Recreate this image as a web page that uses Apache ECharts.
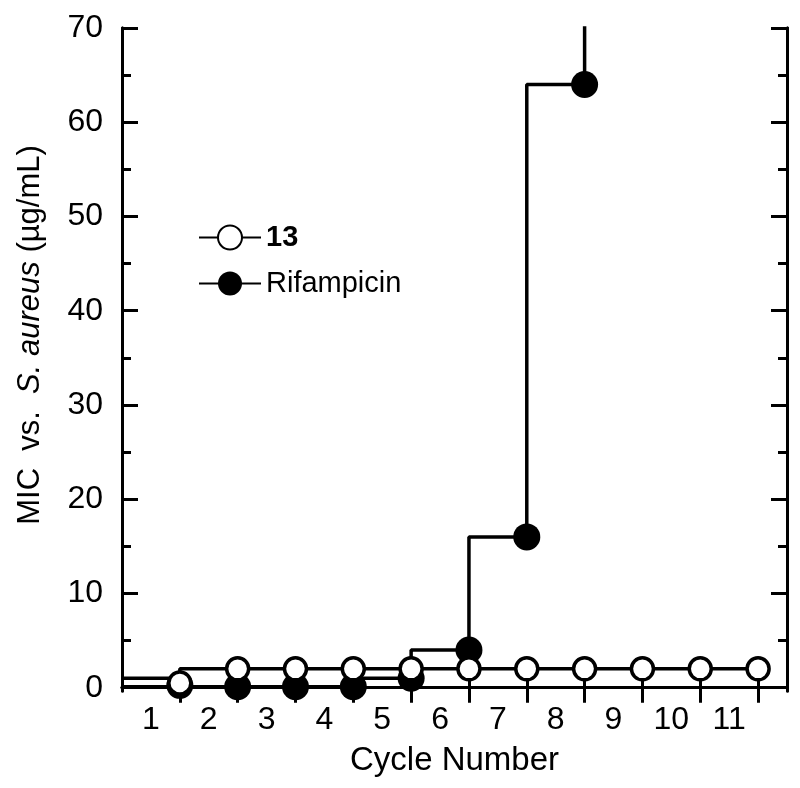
<!DOCTYPE html>
<html>
<head>
<meta charset="utf-8">
<script src="https://cdn.jsdelivr.net/npm/echarts@6/dist/echarts.min.js"></script>
<style>
html,body{margin:0;padding:0;background:#fff;}
#chart{width:800px;height:788px;}
</style>
</head>
<body>
<div id="chart"></div>
<script>
// ---- data ----
const cycles = [1, 2, 3, 4, 5, 6, 7, 8, 9, 10, 11];
const mic13 = [0.5, 2, 2, 2, 2, 2, 2, 2, 2, 2, 2];
const micRif = [0.25, 0.1, 0.1, 0.1, 1, 4, 16, 64, 128];
const lead13 = 1;      // level of the line before cycle 1
const leadRif = 0.1;
const xTickLabels = ['1', '2', '3', '4', '5', '6', '7', '8', '9', '10', '11'];
const yTickLabels = [0, 10, 20, 30, 40, 50, 60, 70];
const yMinorTicks = [5, 15, 25, 35, 45, 55, 65];

const X_MIN = 0, X_MAX = 11.5, Y_MIN = -0.35, Y_MAX = 70;
const FONT = "'Liberation Sans', Arial, sans-serif";

function stepData(lead, vals) {
  const d = [[X_MIN, lead], [cycles[0], lead]];
  for (let i = 1; i < vals.length; i++) d.push([cycles[i], vals[i]]);
  return d;
}
function pts(vals) { return vals.map((v, i) => [cycles[i], v]); }

const xLabelPos = xTickLabels.map((_, i) => cycles[i] - 0.5);

const chart = echarts.init(document.getElementById('chart'), null, {renderer: 'canvas'});

const axisLine = {show: true, lineStyle: {color: '#000', width: 3}};
function yAx(pos, ticks, len, labels) {
  return {
    type: 'value', position: pos, min: Y_MIN, max: Y_MAX,
    axisLine: axisLine,
    splitLine: {show: false},
    axisTick: {show: true, inside: true, length: len, customValues: ticks, lineStyle: {color: '#000', width: 3}},
    axisLabel: labels ? {show: true, customValues: yTickLabels, margin: 19, color: '#000', fontSize: 32, fontFamily: FONT} : {show: false}
  };
}

chart.setOption({
  backgroundColor: '#fff',
  animation: false,
  grid: {left: 122, right: 13, top: 28, bottom: 97},
  legend: {
    orient: 'vertical', left: 198, top: 223, padding: 0,
    itemWidth: 62, itemHeight: 30, itemGap: 17,
    data: ['13', 'Rifampicin'],
    formatter: n => n === '13' ? '{b|13}' : n,
    textStyle: {color: '#000', fontSize: 29, fontFamily: FONT, rich: {b: {fontWeight: 'bold', fontSize: 29, fontFamily: FONT}}}
  },
  graphic: [{
    type: 'text', x: 30, y: 335, rotation: Math.PI / 2,
    style: {
      text: '{n|MIC  vs.  }{i|S. aureus}{n| (µg/mL)}',
      align: 'center', verticalAlign: 'middle',
      rich: {n: {fontSize: 31, fontFamily: FONT, fill: '#000'}, i: {fontSize: 31, fontFamily: FONT, fontStyle: 'italic', fill: '#000'}}
    }
  }],
  xAxis: [
    {
      type: 'value', position: 'bottom', min: X_MIN, max: X_MAX,
      axisLine: axisLine, splitLine: {show: false},
      axisTick: {show: true, inside: true, length: 15, customValues: cycles, lineStyle: {color: '#000', width: 3}},
      axisLabel: {show: true, customValues: xLabelPos, formatter: v => xTickLabels[Math.round(v + 0.5) - 1],
                  margin: 13, color: '#000', fontSize: 32, fontFamily: FONT},
      name: 'Cycle Number', nameLocation: 'middle', nameGap: 53,
      nameTextStyle: {color: '#000', fontSize: 33, fontFamily: FONT}
    },
    {
      type: 'value', position: 'top', min: X_MIN, max: X_MAX,
      axisLine: axisLine, splitLine: {show: false},
      axisTick: {show: true, inside: true, length: 15, customValues: cycles, lineStyle: {color: '#000', width: 3}},
      axisLabel: {show: false}
    }
  ],
  yAxis: [
    yAx('left', yTickLabels, 16, true),
    yAx('left', yMinorTicks, 9, false),
    yAx('right', yTickLabels, 16, false),
    yAx('right', yMinorTicks, 9, false)
  ],
  series: [
    {
      name: 'Rifampicin', type: 'line', step: 'start', data: stepData(leadRif, micRif),
      symbol: 'circle', showSymbol: false, z: 2,
      itemStyle: {color: '#000'}, lineStyle: {color: '#000', width: 3.5}
    },
    {
      name: '13', type: 'line', step: 'start', data: stepData(lead13, mic13),
      symbol: 'emptyCircle', showSymbol: false, z: 2,
      itemStyle: {color: '#000'}, lineStyle: {color: '#000', width: 3.5}
    },
    {
      name: 'Rifampicin markers', type: 'scatter', data: pts(micRif), z: 3,
      symbol: 'circle', symbolSize: 27, itemStyle: {color: '#000', opacity: 1}
    },
    {
      name: '13 markers', type: 'scatter', data: pts(mic13), z: 4,
      symbol: 'circle', symbolSize: 22, itemStyle: {color: '#fff', borderColor: '#000', borderWidth: 3.5, opacity: 1}
    }
  ]
});
</script>
</body>
</html>
